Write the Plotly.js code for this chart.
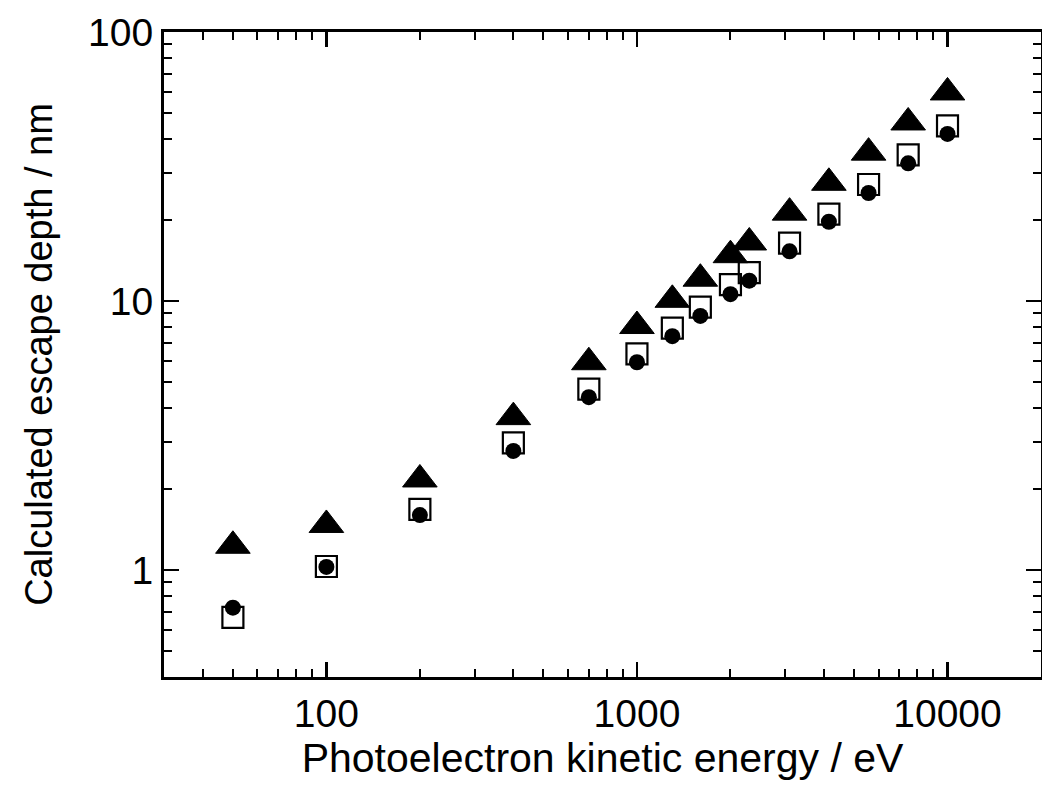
<!DOCTYPE html>
<html>
<head>
<meta charset="utf-8">
<script src="https://cdn.plot.ly/plotly-3.0.1.min.js"></script>
<style>html,body{margin:0;padding:0;background:#fff;}#chart{width:1042px;height:794px;}</style>
</head>
<body>
<div id="chart"></div>
<script>
// Photoelectron kinetic energy (eV)
var energy = [50, 100, 200, 400, 700, 1000, 1300, 1600, 2000, 2300, 3100, 4150, 5570, 7470, 10000];
// Calculated escape depth (nm) for three series
var depthTriangle = [1.23, 1.47, 2.17, 3.70, 5.92, 8.07, 10.1, 12.1, 14.8, 16.5, 21.3, 27.5, 35.6, 46.1, 59.6];
var depthSquare   = [0.666, 1.03, 1.68, 2.97, 4.70, 6.36, 7.92, 9.48, 11.5, 12.75, 16.4, 21.05, 27.1, 34.9, 44.8];
var depthCircle   = [0.724, 1.026, 1.60, 2.77, 4.39, 5.92, 7.40, 8.80, 10.6, 11.9, 15.3, 19.7, 25.2, 32.5, 41.8];

var xTitle = 'Photoelectron kinetic energy / eV';
var yTitle = 'Calculated escape depth / nm';
var xRange = [30, 20000];
var yRange = [0.4, 100];

var font = 'Liberation Sans, Arial, Helvetica, sans-serif';

var traces = [
  {x: energy, y: depthTriangle, type: 'scatter', mode: 'markers', cliponaxis: false,
   marker: {symbol: 'triangle-up', size: 30, color: '#000', line: {color: '#000', width: 1}}},
  {x: energy, y: depthSquare, type: 'scatter', mode: 'markers', cliponaxis: false,
   marker: {symbol: 'square-open', size: 21, color: '#000', line: {color: '#000', width: 2.2}}},
  {x: energy, y: depthCircle, type: 'scatter', mode: 'markers', cliponaxis: false,
   marker: {symbol: 'circle', size: 16, color: '#000', line: {width: 0}}}
];

function axisBase() {
  return {
    type: 'log',
    showline: true, linecolor: '#000', linewidth: 3,
    mirror: 'ticks',
    ticks: 'inside', ticklen: 15, tickwidth: 2.5, tickcolor: '#000',
    dtick: 1, tickformat: 'd', exponentformat: 'none',
    showgrid: false, zeroline: false,
    tickfont: {family: font, size: 39, color: '#000'},
    minor: {ticks: 'inside', ticklen: 8, tickwidth: 2, tickcolor: '#000', dtick: 'D1', showgrid: false}
  };
}

var xaxis = axisBase();
xaxis.range = [Math.log10(xRange[0]), Math.log10(xRange[1])];
xaxis.title = {text: xTitle, font: {family: font, size: 41, color: '#000'}, standoff: 6};
var yaxis = axisBase();
yaxis.range = [Math.log10(yRange[0]), Math.log10(yRange[1])];
yaxis.title = {text: yTitle, font: {family: font, size: 38, color: '#000'}, standoff: 24};

var layout = {
  width: 1042, height: 794,
  margin: {l: 164, r: 1, t: 32, b: 117, pad: 0},
  paper_bgcolor: '#fff', plot_bgcolor: '#fff',
  showlegend: false,
  xaxis: xaxis, yaxis: yaxis
};

Plotly.newPlot('chart', traces, layout, {displayModeBar: false, staticPlot: true});
</script>
</body>
</html>
